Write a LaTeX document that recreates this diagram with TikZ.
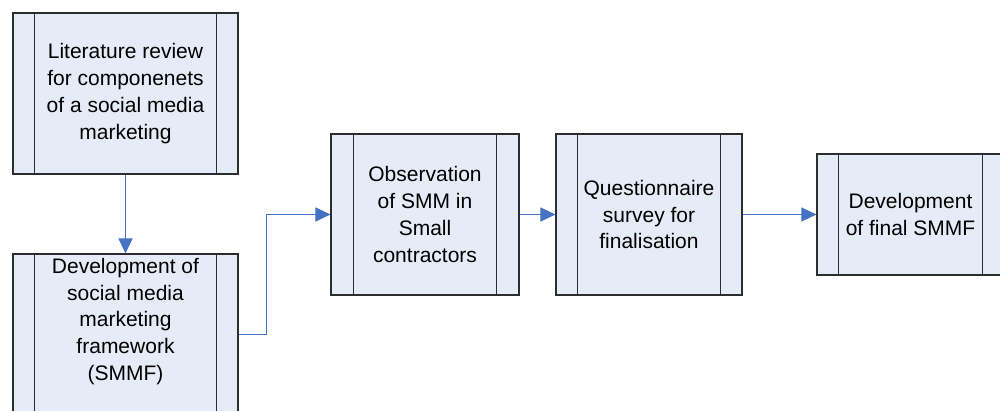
\documentclass[tikz,border=0pt]{standalone}
\usepackage{fontspec}
\setmainfont{Liberation Sans}
\usetikzlibrary{arrows.meta}
\definecolor{boxfill}{RGB}{230,236,247}
\definecolor{boxline}{RGB}{45,45,45}
\definecolor{flow}{RGB}{70,114,196}

\begin{document}
\begin{tikzpicture}[x=1pt,y=-1pt,
  proc/.style={draw=boxline, line width=1.1pt, fill=boxfill, rectangle,
    inner sep=0pt, align=center, font=\fontsize{21}{26.8}\selectfont},
  plain/.style={inner sep=0pt, align=center, font=\fontsize{21}{26.8}\selectfont},
  rail/.style={draw=boxline, line width=1.1pt},
  flowline/.style={draw=flow, line width=1pt, -{Triangle[length=15pt,width=14pt]}},
]
\useasboundingbox (0,0) rectangle (1000,411);
\clip (0,0) rectangle (1000,411);

% process boxes
\node[proc, minimum width=225pt, minimum height=161pt] (b1) at (125.5,93.5)
  {Literature review\\for componenets\\of a social media\\marketing};
\node[proc, minimum width=225pt, minimum height=161pt] (b2) at (125.5,334.5) {};
\node[plain] (t2) at (125.5,321.5)
  {Development of\\social media\\marketing\\framework\\(SMMF)};
\node[proc, minimum width=188pt, minimum height=161pt] (b3) at (425,214.5)
  {Observation\\of SMM in\\Small\\contractors};
\node[proc, minimum width=186pt, minimum height=161pt] (b4) at (649,214.5)
  {Questionnaire\\survey for\\finalisation};
\node[proc, minimum width=187pt, minimum height=121pt] (b5) at (910.5,214.5)
  {Development\\of final SMMF};

% side rails of the predefined-process symbols
\foreach \n/\d in {b1/22,b2/22,b3/23,b4/22,b5/22} {
  \draw[rail] ([xshift=\d pt]\n.north west) -- ([xshift=\d pt]\n.south west);
  \draw[rail] ([xshift=-\d pt]\n.north east) -- ([xshift=-\d pt]\n.south east);
}

% flow connectors
\draw[flowline] (b1.south) -- (b2.north);
\draw[flowline] (b2.east) -- ++(28,0) |- (b3.west);
\draw[flowline] (b3.east) -- (b4.west);
\draw[flowline] (b4.east) -- (b5.west);
\end{tikzpicture}
\end{document}
